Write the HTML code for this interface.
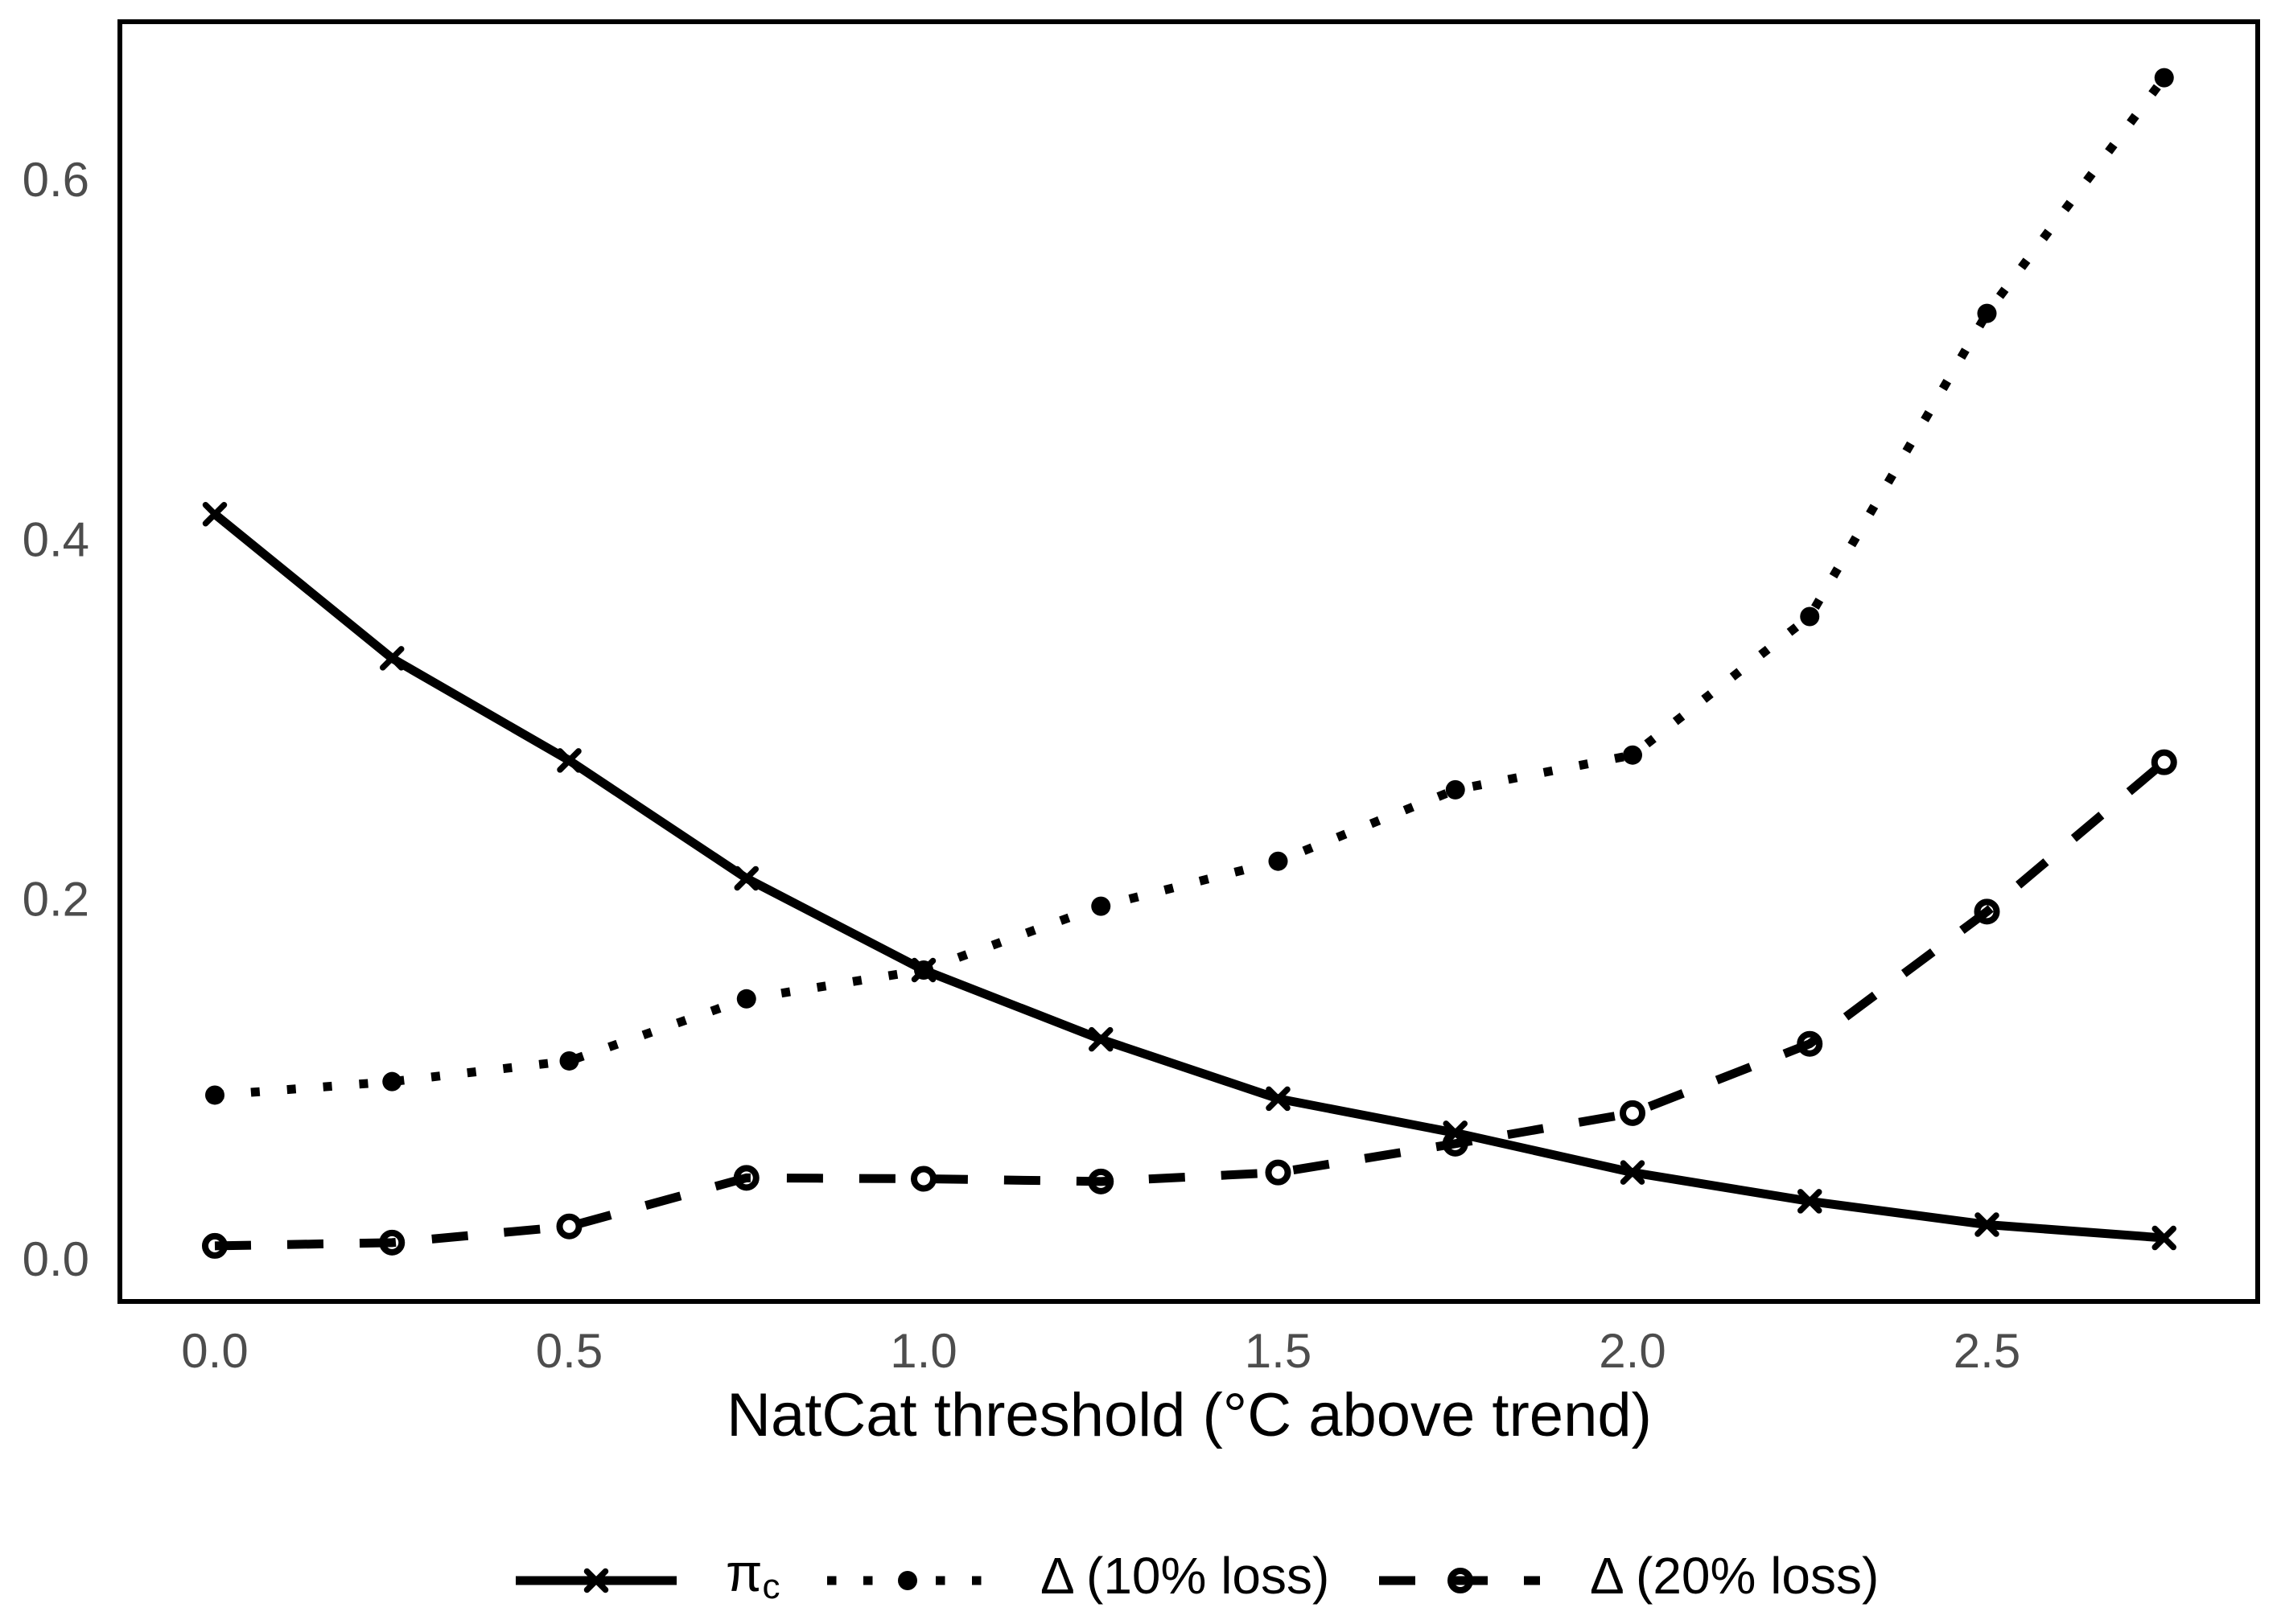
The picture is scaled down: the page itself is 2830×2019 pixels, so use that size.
<!DOCTYPE html>
<html lang="en">
<head>
<meta charset="utf-8">
<title>NatCat threshold chart</title>
<style>
html,body{margin:0;padding:0;background:#fff;width:2830px;height:2019px;overflow:hidden}
svg{display:block}
text{font-family:"Liberation Sans",Arial,sans-serif}
</style>
</head>
<body>
<svg id="chart" xmlns="http://www.w3.org/2000/svg" width="2830" height="2019" viewBox="0 0 2830 2019">
  <rect x="0" y="0" width="2830" height="2019" fill="#fff"/>
  <g id="series-layer"></g>
  <rect x="149" y="27" width="2657" height="1591" fill="none" stroke="#000" stroke-width="6"/>
  <g id="x-ticks"></g>
  <g id="y-ticks"></g>
  <text x="1478" y="1785" font-size="76" text-anchor="middle" fill="#000">NatCat threshold (°C above trend)</text>

  <g>
    <g>
      <line x1="641" y1="1965" x2="841" y2="1965" stroke="#000" stroke-width="11"/>
      <path d="M729.5 1953.5L752.5 1976.5M752.5 1953.5L729.5 1976.5" stroke="#000" stroke-width="7.5" stroke-linecap="round" fill="none"/>
      <text x="902" y="1978" font-size="66" fill="#000">π<tspan font-size="44" dy="9">c</tspan></text>
    </g>
    <g>
      <line x1="1028" y1="1965" x2="1220" y2="1965" stroke="#000" stroke-width="11" stroke-dasharray="11.5 33.5"/>
      <circle cx="1128" cy="1965" r="12" fill="#000"/>
      <text x="1293" y="1981" font-size="64" fill="#000">Δ (10% loss)</text>
    </g>
    <g>
      <line x1="1714" y1="1965" x2="1914" y2="1965" stroke="#000" stroke-width="11" stroke-dasharray="45 45"/>
      <circle cx="1815" cy="1965" r="12" fill="none" stroke="#000" stroke-width="8"/>
      <text x="1976" y="1981" font-size="64" fill="#000">Δ (20% loss)</text>
    </g>
  </g>
</svg>
<script>
const thresholds = [0, 0.25, 0.5, 0.75, 1.0, 1.25, 1.5, 1.75, 2.0, 2.25, 2.5, 2.75];
const piC = [0.4139, 0.3338, 0.277, 0.2115, 0.1605, 0.122, 0.089, 0.070, 0.048, 0.032, 0.019, 0.0116];
const delta10 = [0.091, 0.0985, 0.110, 0.1445, 0.1605, 0.196, 0.221, 0.2607, 0.280, 0.357, 0.5255, 0.6565];
const delta20 = [0.0072, 0.009, 0.018, 0.045, 0.0445, 0.043, 0.048, 0.064, 0.081, 0.1195, 0.193, 0.276];
const xTickLabels = ['0.0', '0.5', '1.0', '1.5', '2.0', '2.5'];
const yTickLabels = ['0.0', '0.2', '0.4', '0.6'];

const NS = 'http://www.w3.org/2000/svg';
function xScale(v) { return 267 + 881 * v; }
function yScale(v) { return 1565 - 2236.7 * v; }
function make(tag, attrs) {
  const el = document.createElementNS(NS, tag);
  for (const k in attrs) el.setAttribute(k, attrs[k]);
  return el;
}
function linePoints(values) {
  return values.map((v, i) => xScale(thresholds[i]).toFixed(2) + ',' + yScale(v).toFixed(2)).join(' ');
}

const layer = document.getElementById('series-layer');

// pi_c : solid line with x markers
const piGroup = make('g', {});


layer.appendChild(piGroup);
const piLine = make('polyline', { points: linePoints(piC), fill: 'none', stroke: '#000', 'stroke-width': 11, 'stroke-linejoin': 'round' });


piGroup.appendChild(piLine);
piC.forEach((v, i) => {
  const cx = xScale(thresholds[i]);
  const cy = yScale(v);
  const d = 11.5;
  const mark = make('path', {
    d: `M${cx - d} ${cy - d}L${cx + d} ${cy + d}M${cx + d} ${cy - d}L${cx - d} ${cy + d}`,
    stroke: '#000', 'stroke-width': 7.5, 'stroke-linecap': 'round', fill: 'none'
  });
  
  
  piGroup.appendChild(mark);
});

// delta 10% : dotted line with filled circles
const d10Group = make('g', {});


layer.appendChild(d10Group);
const d10Line = make('polyline', { points: linePoints(delta10), fill: 'none', stroke: '#000', 'stroke-width': 11, 'stroke-dasharray': '11 34' });


d10Group.appendChild(d10Line);
delta10.forEach((v, i) => {
  const mark = make('circle', { cx: xScale(thresholds[i]), cy: yScale(v), r: 12, fill: '#000' });
  
  
  d10Group.appendChild(mark);
});

// delta 20% : dashed line with open circles
const d20Group = make('g', {});


layer.appendChild(d20Group);
const d20Line = make('polyline', { points: linePoints(delta20), fill: 'none', stroke: '#000', 'stroke-width': 11, 'stroke-dasharray': '45 45' });


d20Group.appendChild(d20Line);
delta20.forEach((v, i) => {
  const mark = make('circle', { cx: xScale(thresholds[i]), cy: yScale(v), r: 12, fill: 'none', stroke: '#000', 'stroke-width': 8 });
  
  
  d20Group.appendChild(mark);
});

// tick labels
const xTicks = document.getElementById('x-ticks');
xTickLabels.forEach(label => {
  const t = make('text', { x: xScale(parseFloat(label)), y: 1700, 'font-size': 60, 'text-anchor': 'middle', fill: '#4D4D4D' });
  
  
  t.textContent = label;
  xTicks.appendChild(t);
});
const yTicks = document.getElementById('y-ticks');
yTickLabels.forEach(label => {
  const t = make('text', { x: 111, y: yScale(parseFloat(label)) + 21, 'font-size': 60, 'text-anchor': 'end', fill: '#4D4D4D' });
  
  
  t.textContent = label;
  yTicks.appendChild(t);
});
</script>
</body>
</html>
